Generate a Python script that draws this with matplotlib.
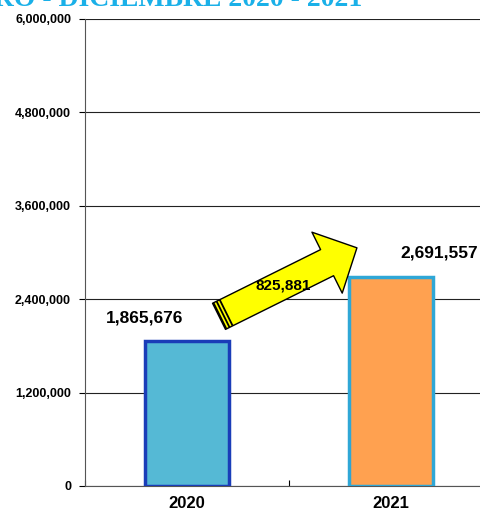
import numpy as np
import matplotlib
matplotlib.use('Agg')
import matplotlib.pyplot as plt
from matplotlib.transforms import IdentityTransform

# data
years = ['2020', '2021']
values = [1865676, 2691557]
diff_label = '825,881'
yticks = [0, 1200000, 2400000, 3600000, 4800000, 6000000]
title = 'ENERO - DICIEMBRE 2020 - 2021'

fill_colors = ['#55B9D5', '#FFA150']
edge_colors = ['#1A3DB8', '#2FA7D6']

plt.rcParams['font.family'] = ['Liberation Sans', 'DejaVu Sans']

fig = plt.figure(figsize=(4.8, 5.13), dpi=100)
ax = fig.add_axes([85 / 480, 27 / 513, 408 / 480, 467 / 513])

x = np.arange(len(years))
ax.bar(x, values, width=0.41, color=fill_colors, edgecolor=edge_colors,
       linewidth=2.5, zorder=3)

ax.set_xlim(-0.5, 1.5)
ax.set_ylim(0, 6000000)
ax.set_yticks(yticks)
ax.set_yticklabels(['{:,}'.format(v) for v in yticks], fontsize=9,
                   fontweight='bold')
ax.yaxis.grid(True, color='#222222', linewidth=0.8, zorder=0)
ax.tick_params(axis='y', length=4, direction='out', pad=6)

ax.set_xticks([-0.5, 0.5, 1.5])
ax.set_xticklabels([])
ax.set_xticks(x, minor=True)
ax.set_xticklabels(years, minor=True, fontsize=12, fontweight='bold')
ax.tick_params(axis='x', which='major', length=4, direction='in')
ax.tick_params(axis='x', which='minor', length=0, pad=7)

for s in ['top', 'right']:
    ax.spines[s].set_visible(False)
ax.spines['left'].set_color('#555555')
ax.spines['bottom'].set_color('#555555')

# value labels
ax.text(-0.21, values[0] + 200000, '{:,}'.format(values[0]),
        ha='center', va='bottom', fontsize=12.5, fontweight='bold')
ax.text(1.235, values[1] + 200000, '{:,}'.format(values[1]),
        ha='center', va='bottom', fontsize=12.5, fontweight='bold')

# growth arrow
tail = (0.157, 2180000)
tip = (0.833, 3060000)
ax.annotate('', xy=tip, xytext=tail,
            arrowprops=dict(arrowstyle='simple,head_length=24,head_width=49,tail_width=21',
                            mutation_scale=1, fc='#FFFF00', ec='black', lw=1,
                            shrinkA=0, shrinkB=0), zorder=4)

# striped tail end
p0 = ax.transData.transform(tail)
p1 = ax.transData.transform(tip)
d = (p1 - p0) / np.hypot(*(p1 - p0))
n = np.array([-d[1], d[0]])
half = 14.5
for off in [1.0, 4.5, 8.0]:
    c = p0 + d * off
    a = c + n * half
    b = c - n * half
    ax.plot([a[0], b[0]], [a[1], b[1]], color='black', lw=1.3,
            transform=IdentityTransform(), zorder=5, solid_capstyle='butt')

ax.text(0.47, 2580000, diff_label, ha='center', va='center', fontsize=11,
        fontweight='bold', zorder=6)

fig.text(362 / 480, 1 - 6 / 513, title, ha='right', va='baseline',
         fontsize=20, fontweight='bold', color='#1AB0E8',
         family=['Liberation Serif', 'DejaVu Serif'])

fig.savefig('out.png', dpi=100)
